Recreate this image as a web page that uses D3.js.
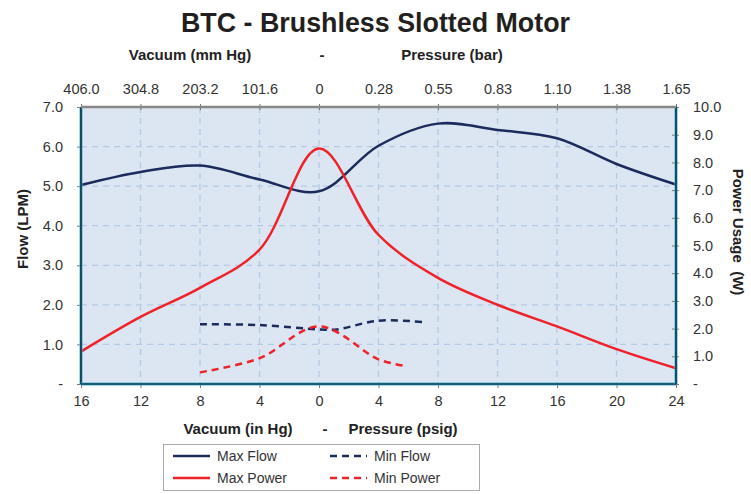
<!DOCTYPE html>
<html>
<head>
<meta charset="utf-8">
<script src="https://cdnjs.cloudflare.com/ajax/libs/d3/7.8.5/d3.min.js"></script>
<style>
	body { margin: 0; background: #fff; }
	svg text { font-family: Arial, "Liberation Sans", sans-serif; fill: #333; }
	.axis-title { font-weight: bold; font-size: 15px; fill: #222; }
</style>
</head>
<body>
<div id="chart"></div>
<script>

///////////////////////////////////////////////////////////////////////////
//////////////////////////////// The data /////////////////////////////////
///////////////////////////////////////////////////////////////////////////

//x is in in Hg for vacuum (negative side) and psig for pressure
var xTicks = [-16, -12, -8, -4, 0, 4, 8, 12, 16, 20, 24];
var topLabels = ["406.0", "304.8", "203.2", "101.6", "0", "0.28", "0.55", "0.83", "1.10", "1.38", "1.65"];
var flowTicks = [0, 1, 2, 3, 4, 5, 6, 7];
var powerTicks = [0, 1, 2, 3, 4, 5, 6, 7, 8, 9, 10];

var maxFlowX = [-16, -12, -8, -4, 0, 4, 8, 12, 16, 20, 24];
var maxFlowY = [5.03, 5.36, 5.52, 5.17, 4.87, 6.02, 6.58, 6.42, 6.21, 5.56, 5.04];

var maxPowerX = [-16, -12, -8, -4, 0, 4, 8, 12, 16, 20, 24];
var maxPowerY = [1.17, 2.42, 3.47, 4.85, 8.5, 5.38, 3.83, 2.86, 2.08, 1.26, 0.57];

var minFlowX = [-8, -4, 0, 1.2, 4, 7.2];
var minFlowY = [1.51, 1.49, 1.38, 1.38, 1.6, 1.56];

var minPowerX = [-8, -4, 0, 4, 5.7];
var minPowerY = [0.42, 0.93, 2.08, 0.89, 0.66];

var navy = "#1c2a5c",
	red = "#ee2229";

///////////////////////////////////////////////////////////////////////////
//////////////////////////// Set up the SVG ///////////////////////////////
///////////////////////////////////////////////////////////////////////////

var width = 751,
	height = 494;
var plot = { left: 81, right: 676, top: 107, bottom: 384 };

var svg = d3.select("#chart").append("svg")
	.attr("width", width)
	.attr("height", height);

var x = d3.scaleLinear().domain([-16, 24]).range([plot.left, plot.right]);
var yFlow = d3.scaleLinear().domain([0, 7]).range([plot.bottom, plot.top]);
var yPower = d3.scaleLinear().domain([0, 10]).range([plot.bottom, plot.top]);

//Plot background
svg.append("rect")
	.attr("x", plot.left)
	.attr("y", plot.top)
	.attr("width", plot.right - plot.left)
	.attr("height", plot.bottom - plot.top)
	.style("fill", "#dce6f2");

///////////////////////////////////////////////////////////////////////////
/////////////////////////////// Gridlines /////////////////////////////////
///////////////////////////////////////////////////////////////////////////

svg.append("g").selectAll("line")
	.data(xTicks.slice(1, -1))
	.enter().append("line")
	.attr("x1", function(d) { return x(d); })
	.attr("x2", function(d) { return x(d); })
	.attr("y1", plot.top)
	.attr("y2", plot.bottom)
	.style("stroke", "#b6cae3")
	.style("stroke-width", 1.3)
	.style("stroke-dasharray", "6,5");

svg.append("g").selectAll("line")
	.data(flowTicks.slice(1, -1))
	.enter().append("line")
	.attr("x1", plot.left)
	.attr("x2", plot.right)
	.attr("y1", function(d) { return yFlow(d); })
	.attr("y2", function(d) { return yFlow(d); })
	.style("stroke", "#b6cae3")
	.style("stroke-width", 1.3)
	.style("stroke-dasharray", "6,5");

///////////////////////////////////////////////////////////////////////////
///////////////////////////////// Axes ////////////////////////////////////
///////////////////////////////////////////////////////////////////////////

var bottomAxis = svg.append("g")
	.attr("transform", "translate(0," + plot.bottom + ")")
	.call(d3.axisBottom(x).tickValues(xTicks).tickSize(4).tickPadding(8)
		.tickFormat(function(d) { return Math.abs(d); }));

var topAxis = svg.append("g")
	.attr("transform", "translate(0," + plot.top + ")")
	.call(d3.axisTop(x).tickValues(xTicks).tickSize(3).tickPadding(10)
		.tickFormat(function(d, i) { return topLabels[i]; }));
topAxis.selectAll(".tick line").attr("y2", 3).attr("y1", -3);

var leftAxis = svg.append("g")
	.attr("transform", "translate(" + plot.left + ",0)")
	.call(d3.axisLeft(yFlow).tickValues(flowTicks).tickSize(4).tickPadding(14)
		.tickFormat(function(d) { return d === 0 ? "-" : d.toFixed(1); }));

var rightAxis = svg.append("g")
	.attr("transform", "translate(" + plot.right + ",0)")
	.call(d3.axisRight(yPower).tickValues(powerTicks).tickSize(3).tickPadding(14)
		.tickFormat(function(d) { return d === 0 ? "-" : d.toFixed(1); }));
rightAxis.selectAll(".tick line").attr("x1", -4);

svg.selectAll(".domain").remove();
svg.selectAll(".tick line").style("stroke", "#777");
svg.selectAll(".tick text")
	.style("fill", "#333")
	.style("font-size", "14.5px")
	.style("font-family", "Arial, 'Liberation Sans', sans-serif");

///////////////////////////////////////////////////////////////////////////
/////////////////////////////// The lines /////////////////////////////////
///////////////////////////////////////////////////////////////////////////

function makeLine(yScale) {
	return d3.line()
		.x(function(d) { return x(d[0]); })
		.y(function(d) { return yScale(d[1]); })
		.curve(d3.curveCatmullRom.alpha(0.5));
}

var series = [
	{ xs: maxFlowX, ys: maxFlowY, scale: yFlow, color: navy, dash: null },
	{ xs: maxPowerX, ys: maxPowerY, scale: yPower, color: red, dash: null },
	{ xs: minFlowX, ys: minFlowY, scale: yFlow, color: navy, dash: "7,5" },
	{ xs: minPowerX, ys: minPowerY, scale: yPower, color: red, dash: "7,5" }
];

series.forEach(function(s) {
	var pts = d3.zip(s.xs, s.ys);
	svg.append("path")
		.datum(pts)
		.attr("d", makeLine(s.scale))
		.style("fill", "none")
		.style("stroke", s.color)
		.style("stroke-width", 2.5)
		.style("stroke-dasharray", s.dash);
});

///////////////////////////////////////////////////////////////////////////
//////////////////////////// Plot area borders ////////////////////////////
///////////////////////////////////////////////////////////////////////////

var borders = [
	[plot.left, plot.top, plot.left, plot.bottom],
	[plot.left, plot.bottom, plot.right, plot.bottom],
	[plot.right, plot.top, plot.right, plot.bottom]
];
borders.forEach(function(b) {
	svg.append("line")
		.attr("x1", b[0]).attr("y1", b[1]).attr("x2", b[2]).attr("y2", b[3])
		.style("stroke", "#3fb6e0").style("stroke-width", 3);
	svg.append("line")
		.attr("x1", b[0]).attr("y1", b[1]).attr("x2", b[2]).attr("y2", b[3])
		.style("stroke", "#000").style("stroke-width", 1.2);
});
svg.append("line")
	.attr("x1", plot.left).attr("x2", plot.right)
	.attr("y1", plot.top).attr("y2", plot.top)
	.style("stroke", "#888").style("stroke-width", 2.5);

///////////////////////////////////////////////////////////////////////////
/////////////////////////////// Add text //////////////////////////////////
///////////////////////////////////////////////////////////////////////////

svg.append("text")
	.attr("x", 375.5)
	.attr("y", 32)
	.attr("text-anchor", "middle")
	.attr("textLength", 389)
	.attr("lengthAdjust", "spacingAndGlyphs")
	.style("font-size", "28px")
	.style("font-weight", "bold")
	.style("fill", "#231f20")
	.text("BTC - Brushless Slotted Motor");

var axisTitles = [
	{ text: "Vacuum (mm Hg)", x: 190, y: 60 },
	{ text: "-", x: 322, y: 60 },
	{ text: "Pressure (bar)", x: 452, y: 60 },
	{ text: "Vacuum (in Hg)", x: 238, y: 434 },
	{ text: "-", x: 325, y: 434 },
	{ text: "Pressure (psig)", x: 403, y: 434 }
];
svg.selectAll(".axis-title-h")
	.data(axisTitles)
	.enter().append("text")
	.attr("class", "axis-title")
	.attr("x", function(d) { return d.x; })
	.attr("y", function(d) { return d.y; })
	.attr("text-anchor", "middle")
	.text(function(d) { return d.text; });

svg.append("text")
	.attr("class", "axis-title")
	.attr("transform", "translate(23,229) rotate(-90)")
	.attr("dy", "0.35em")
	.attr("text-anchor", "middle")
	.text("Flow (LPM)");

svg.append("text")
	.attr("class", "axis-title")
	.attr("transform", "translate(738,232) rotate(90)")
	.attr("dy", "0.35em")
	.attr("text-anchor", "middle")
	.text("Power Usage\u00a0\u00a0(W)");

///////////////////////////////////////////////////////////////////////////
/////////////////////////////// The legend ////////////////////////////////
///////////////////////////////////////////////////////////////////////////

var legendData = [
	{ name: "Max Flow", color: navy, dash: null, x: 173, y: 456 },
	{ name: "Min Flow", color: navy, dash: "7,5", x: 330, y: 456 },
	{ name: "Max Power", color: red, dash: null, x: 173, y: 478 },
	{ name: "Min Power", color: red, dash: "7,5", x: 330, y: 478 }
];

svg.append("rect")
	.attr("x", 163.5)
	.attr("y", 444.5)
	.attr("width", 316)
	.attr("height", 46)
	.style("fill", "#fff")
	.style("stroke", "#aaa");

var legendItem = svg.selectAll(".legend-item")
	.data(legendData)
	.enter().append("g")
	.attr("class", "legend-item")
	.attr("transform", function(d) { return "translate(" + d.x + "," + d.y + ")"; });

legendItem.append("line")
	.attr("x1", 0)
	.attr("x2", 37)
	.style("stroke", function(d) { return d.color; })
	.style("stroke-width", 2.5)
	.style("stroke-dasharray", function(d) { return d.dash; });

legendItem.append("text")
	.attr("x", 44)
	.attr("dy", "0.35em")
	.style("font-size", "14px")
	.text(function(d) { return d.name; });

</script>
</body>
</html>
